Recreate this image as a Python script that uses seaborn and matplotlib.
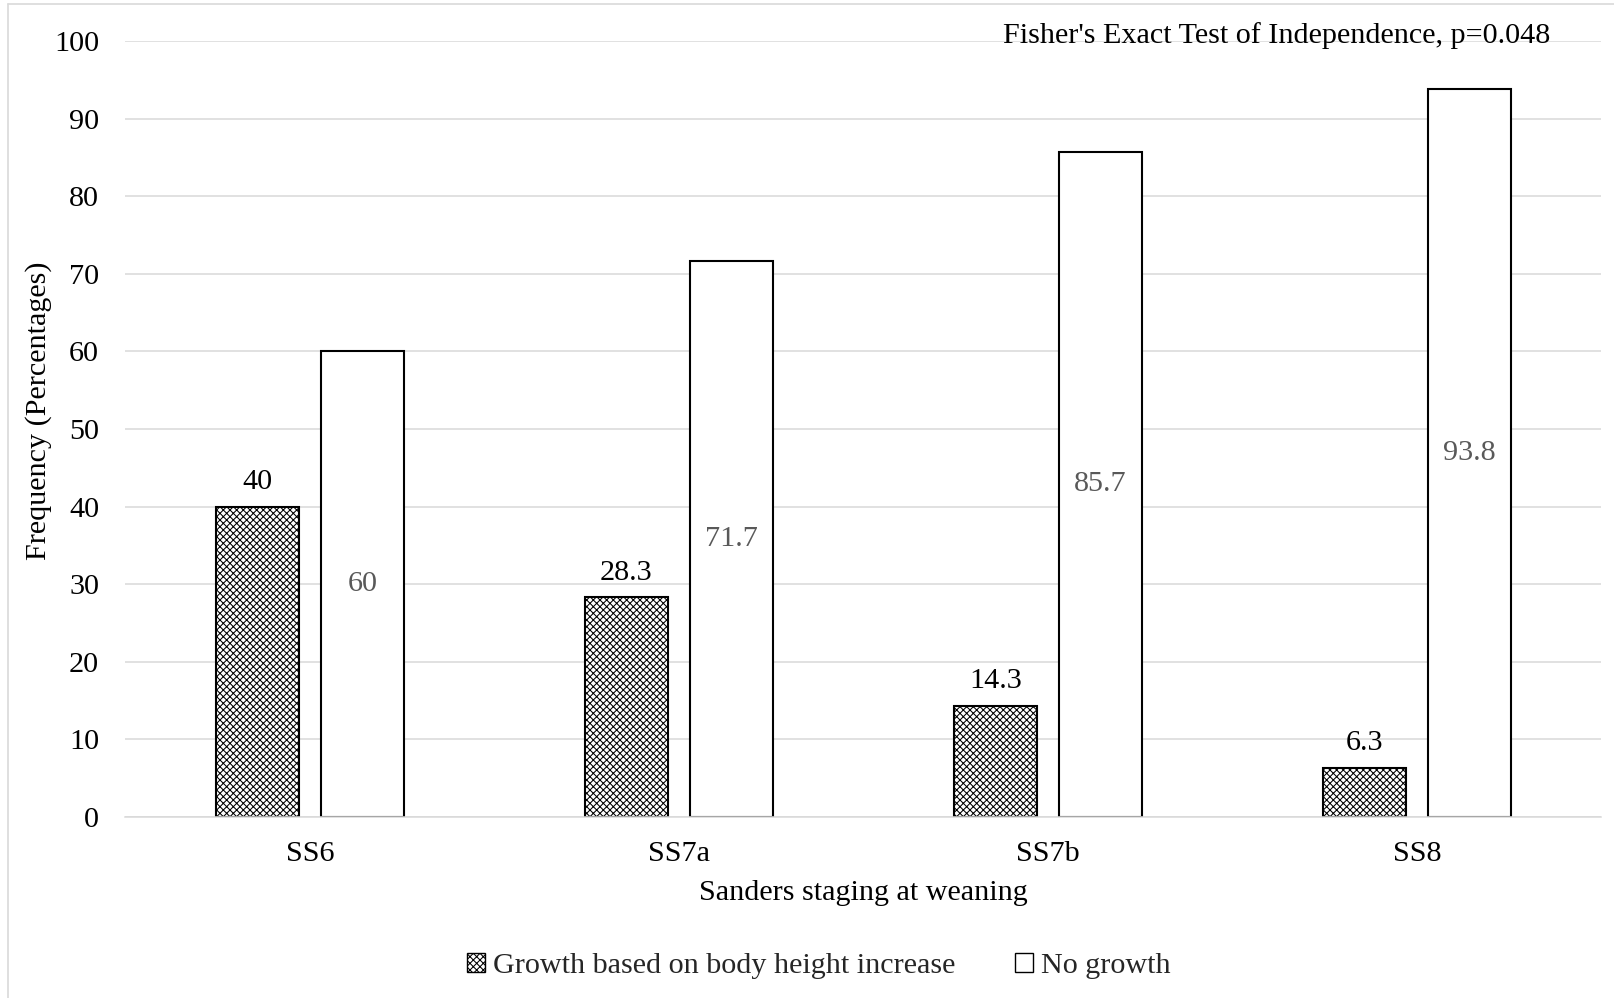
import matplotlib
matplotlib.use("Agg")
import matplotlib.pyplot as plt
from matplotlib.lines import Line2D
from matplotlib.patches import Patch
import pandas as pd
import seaborn as sns

# Sanders stage at weaning and growth outcome (percent of animals)
stages = ["SS6", "SS7a", "SS7b", "SS8"]
growth = [40, 28.3, 14.3, 6.3]
no_growth = [60, 71.7, 85.7, 93.8]
series_names = ["Growth based on body height increase", "No growth"]
y_ticks = [0, 10, 20, 30, 40, 50, 60, 70, 80, 90, 100]

df = pd.DataFrame({
    "stage": stages * 2,
    "outcome": [series_names[0]] * len(stages) + [series_names[1]] * len(stages),
    "pct": growth + no_growth,
})

sns.set_theme(style="white")
plt.rcParams["font.family"] = ["Liberation Serif", "DejaVu Serif"]
plt.rcParams["hatch.linewidth"] = 0.75
plt.rcParams["hatch.color"] = "black"

FS = 21.7
GRID = "#d9d9d9"
HATCH = "xxxxx"

fig = plt.figure(figsize=(16.15, 9.98), dpi=100)
ax = fig.add_axes([0.0777, 0.1814, 0.9139, 0.7776])

sns.barplot(
    data=df, x="stage", y="pct", hue="outcome", hue_order=series_names,
    order=stages, palette=["white", "white"], edgecolor="black",
    linewidth=1.5, width=0.57, gap=0.21, legend=False, ax=ax,
)

# cross-hatched fill for the growth bars
for patch in ax.containers[0]:
    patch.set_hatch(HATCH)

ax.set_ylim(0, 100)
ax.set_xlim(-0.5, len(stages) - 0.5)
ax.set_yticks(y_ticks)
ax.yaxis.grid(True, color=GRID, linewidth=1.1)
ax.set_axisbelow(True)
for side in ["left", "right", "top"]:
    ax.spines[side].set_visible(False)
ax.spines["bottom"].set_color(GRID)
ax.spines["bottom"].set_linewidth(1.1)
ax.tick_params(axis="both", length=0, labelsize=FS, colors="black")
ax.tick_params(axis="x", pad=17.5)
ax.tick_params(axis="y", pad=19)

ax.set_xlabel("Sanders staging at weaning", fontsize=FS, color="black")
ax.xaxis.set_label_coords(0.5, -0.098)
ax.xaxis.label.set_va("center")
ax.set_ylabel("Frequency (Percentages)", fontsize=FS, color="black")
ax.yaxis.label.set_va("center")
ax.yaxis.label.set_ha("center")
ax.yaxis.set_label_coords(-0.0586, 0.523)

# value labels
ax.bar_label(ax.containers[0], labels=[f"{v:g}" for v in growth],
             padding=8.5, fontsize=FS, color="black")
ax.bar_label(ax.containers[1], labels=[f"{v:g}" for v in no_growth],
             label_type="center", fontsize=FS, color="#595959")

ax.text(0.965, 1.0065, "Fisher's Exact Test of Independence, p=0.048",
        transform=ax.transAxes, ha="right", va="center", fontsize=FS,
        color="black")

handles = [
    Patch(facecolor="white", edgecolor="black", hatch=HATCH, linewidth=1.0),
    Patch(facecolor="white", edgecolor="black", linewidth=1.0),
]
fig.legend(handles, series_names, loc="center", bbox_to_anchor=(0.507, 0.032),
           ncol=2, frameon=False, fontsize=FS, handlelength=0.58,
           handleheight=0.58, handletextpad=0.27, columnspacing=2.0)

# light frame along the left and top edges
fig.add_artist(Line2D([8.5 / 1615, 8.5 / 1615], [0, 1 - 3.5 / 998],
                      transform=fig.transFigure, color=GRID, linewidth=1.2))
fig.add_artist(Line2D([8.5 / 1615, 1], [1 - 3.5 / 998, 1 - 3.5 / 998],
                      transform=fig.transFigure, color=GRID, linewidth=1.2))

fig.savefig("out.png", dpi=100, facecolor="white")
